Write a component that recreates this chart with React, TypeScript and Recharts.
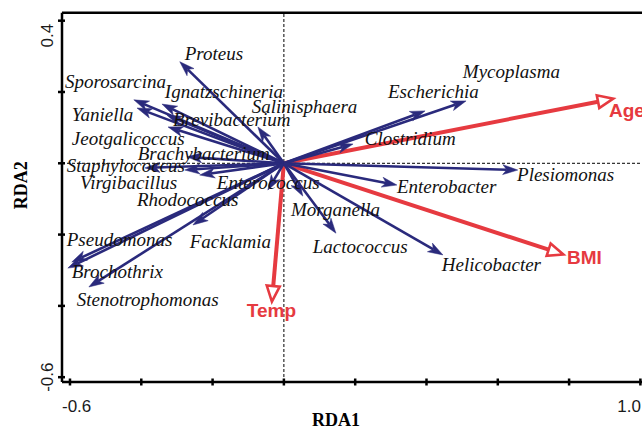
import React from 'react';
import { ScatterChart, Scatter, XAxis, YAxis, ReferenceLine } from 'recharts';

// ---------- data ----------
const species = [
  'Proteus', 'Sporosarcina', 'Ignatzschineria', 'Yaniella', 'Brevibacterium', 'Salinisphaera',
  'Jeotgalicoccus', 'Brachybacterium', 'Staphylococcus', 'Virgibacillus', 'Enterococcus', 'Rhodococcus',
  'Pseudomonas', 'Facklamia', 'Brochothrix', 'Stenotrophomonas', 'Morganella', 'Lactococcus',
  'Helicobacter', 'Mycoplasma', 'Escherichia', 'Clostridium', 'Plesiomonas', 'Enterobacter',
];
const speciesRDA1 = [
  -0.292, -0.421, -0.342, -0.412, -0.328, -0.073,
  -0.325, -0.272, -0.39, -0.278, -0.045, -0.236,
  -0.595, -0.255, -0.606, -0.547, 0.053, 0.146,
  0.446, 0.511, 0.396, 0.194, 0.656, 0.317,
];
const speciesRDA2 = [
  0.285, 0.178, 0.166, 0.155, 0.135, 0.102,
  0.102, 0.018, -0.013, -0.019, -0.075, -0.033,
  -0.277, -0.173, -0.294, -0.347, -0.092, -0.196,
  -0.257, 0.175, 0.147, 0.054, -0.019, -0.061,
];
// label anchors (data units)
const speciesLabelX = [
  -0.278, -0.614, -0.334, -0.595, -0.311, -0.09,
  -0.595, -0.41, -0.609, -0.572, -0.188, -0.412,
  -0.609, -0.264, -0.595, -0.581, 0.02, 0.081,
  0.443, 0.502, 0.292, 0.227, 0.654, 0.317,
];
const speciesLabelY = [
  0.29, 0.211, 0.183, 0.119, 0.105, 0.141,
  0.051, 0.009, -0.024, -0.072, -0.072, -0.12,
  -0.232, -0.238, -0.322, -0.4, -0.148, -0.252,
  -0.302, 0.239, 0.183, 0.051, -0.05, -0.083,
];

const envVars = ['Age', 'BMI', 'Temp'];
const envRDA1 = [0.928, 0.788, -0.034];
const envRDA2 = [0.182, -0.257, -0.392];
const envLabelX = [0.912, 0.794, -0.104];
const envLabelY = [0.13, -0.282, -0.431];

const xTicks = [-0.6, -0.4, -0.2, 0, 0.2, 0.4, 0.6, 0.8, 1.0];
const xTickText = ['-0.6', '', '', '', '', '', '', '', '1.0'];
const yTicks = [-0.6, -0.4, -0.2, 0, 0.2, 0.4];
const yTickText = ['-0.6', '', '', '', '', '0.4'];

const X_DOMAIN: [number, number] = [-0.6224, 1.17];
const Y_DOMAIN: [number, number] = [-0.6135, 0.4224];

// ---------- styles ----------
const BLUE = '#2a2a7c';
const RED = '#e63a40';
const SANS = '"Liberation Sans", Arial, sans-serif';
const SERIF = '"Liberation Serif", "Times New Roman", "DejaVu Serif", serif';

const speciesLabels = species.map((name, i) => ({ x: speciesLabelX[i], y: speciesLabelY[i], name }));
const envLabels = envVars.map((name, i) => ({ x: envLabelX[i], y: envLabelY[i], name }));

const blueArrow = (p: any) => {
  const { x1, y1, x2, y2 } = p;
  const dx = x2 - x1;
  const dy = y2 - y1;
  const len = Math.hypot(dx, dy) || 1;
  const ux = dx / len;
  const uy = dy / len;
  const nx = -uy;
  const ny = ux;
  const L = 15;
  const W = 5;
  const N = 11;
  const bx = x2 - ux * L;
  const by = y2 - uy * L;
  const kx = x2 - ux * N;
  const ky = y2 - uy * N;
  const pts = `${x2},${y2} ${bx + nx * W},${by + ny * W} ${kx},${ky} ${bx - nx * W},${by - ny * W}`;
  return (
    <g>
      <line x1={x1} y1={y1} x2={kx} y2={ky} stroke={BLUE} strokeWidth={2.6} />
      <polygon points={pts} fill={BLUE} stroke={BLUE} strokeWidth={0.5} />
    </g>
  );
};

const redArrow = (p: any) => {
  const { x1, y1, x2, y2 } = p;
  const dx = x2 - x1;
  const dy = y2 - y1;
  const len = Math.hypot(dx, dy) || 1;
  const ux = dx / len;
  const uy = dy / len;
  const nx = -uy;
  const ny = ux;
  const L = 17;
  const W = 6.5;
  const tx = x2 - ux * 1.5;
  const ty = y2 - uy * 1.5;
  const bx = x2 - ux * L;
  const by = y2 - uy * L;
  const pts = `${tx},${ty} ${bx + nx * W},${by + ny * W} ${bx - nx * W},${by - ny * W}`;
  return (
    <g>
      <line x1={x1} y1={y1} x2={bx} y2={by} stroke={RED} strokeWidth={4} />
      <polygon points={pts} fill="#fff" stroke={RED} strokeWidth={2.6} strokeLinejoin="miter" />
    </g>
  );
};

const XTick = (p: any) => {
  const { x, y, payload } = p;
  const idx = xTicks.findIndex((t) => Math.abs(t - payload.value) < 1e-9);
  const txt = idx >= 0 ? xTickText[idx] : '';
  const first = idx === 0;
  return (
    <g>
      <line x1={x} x2={x} y1={y - 3.5} y2={y + 3.5} stroke="#000" strokeWidth={2.5} />
      {txt ? (
        <text
          x={first ? x - 8 : x + 0.5}
          y={y + 29.5}
          textAnchor={first ? 'start' : 'end'}
          style={{ fontFamily: SANS, fontSize: 17 }}
          fill="#1a1a1a"
        >
          {txt}
        </text>
      ) : null}
    </g>
  );
};

const YTick = (p: any) => {
  const { x, y, payload } = p;
  const idx = yTicks.findIndex((t) => Math.abs(t - payload.value) < 1e-9);
  const txt = idx >= 0 ? yTickText[idx] : '';
  const cy = idx === yTicks.length - 1 ? y + 15 : y;
  const tx = x - 9;
  return (
    <g>
      <line x1={x - 4} x2={x + 3} y1={y} y2={y} stroke="#000" strokeWidth={2.5} />
      {txt ? (
        <text
          x={tx}
          y={cy}
          textAnchor="middle"
          transform={`rotate(-90, ${tx}, ${cy})`}
          style={{ fontFamily: SANS, fontSize: 17 }}
          fill="#1a1a1a"
        >
          {txt}
        </text>
      ) : null}
      {idx === 3 ? (
        <text
          x={x - 35}
          y={y + 22}
          textAnchor="middle"
          transform={`rotate(-90, ${x - 35}, ${y + 22})`}
          style={{ fontFamily: SERIF, fontWeight: 700, fontSize: 18 }}
          fill="#000"
        >
          RDA2
        </text>
      ) : null}
    </g>
  );
};

const xTitle = (lp: any) => {
  const vb = lp.viewBox || { x: 62, y: 382 };
  return (
    <text
      x={vb.x + 274}
      y={vb.y + 44}
      textAnchor="middle"
      style={{ fontFamily: SERIF, fontWeight: 700, fontSize: 18 }}
      fill="#000"
    >
      RDA1
    </text>
  );
};

const speciesText = (p: any) => (
  <text x={p.cx} y={p.cy} style={{ fontFamily: SERIF, fontStyle: 'italic', fontSize: 19 }} fill="#111">
    {p.payload.name}
  </text>
);

const envText = (p: any) => (
  <text x={p.cx} y={p.cy} style={{ fontFamily: SANS, fontWeight: 700, fontSize: 19 }} fill={RED}>
    {p.payload.name}
  </text>
);

export default function App() {
  return (
    <div style={{ position: 'absolute', left: 0, top: 0, width: 642, height: 427, overflow: 'hidden', background: '#fff' }}>
      <ScatterChart width={701} height={427} margin={{ top: 12.7, right: 0, bottom: 0, left: 0 }}>
        <XAxis
          type="number"
          dataKey="x"
          domain={X_DOMAIN}
          ticks={xTicks}
          interval={0}
          allowDataOverflow
          height={45}
          tickSize={0}
          tickMargin={0}
          tickLine={false}
          axisLine={{ stroke: '#000', strokeWidth: 2.5 }}
          tick={XTick}
          label={xTitle}
        />
        <YAxis
          type="number"
          dataKey="y"
          domain={Y_DOMAIN}
          ticks={yTicks}
          interval={0}
          allowDataOverflow
          width={62}
          tickSize={0}
          tickMargin={0}
          tickLine={false}
          axisLine={{ stroke: '#000', strokeWidth: 2.5 }}
          tick={YTick}
        />
        <ReferenceLine y={Y_DOMAIN[1]} stroke="#000" strokeWidth={2.5} ifOverflow="visible" />
        <ReferenceLine x={0} stroke="#000" strokeWidth={1} strokeDasharray="3 2" ifOverflow="visible" />
        <ReferenceLine y={0} stroke="#000" strokeWidth={1} strokeDasharray="3 2" ifOverflow="visible" />
        <Scatter data={speciesLabels} shape={speciesText} isAnimationActive={false} />
        <Scatter data={envLabels} shape={envText} isAnimationActive={false} />
        {envVars.map((v, i) => (
          <ReferenceLine
            key={v}
            segment={[{ x: 0, y: 0 }, { x: envRDA1[i], y: envRDA2[i] }]}
            shape={redArrow}
            ifOverflow="visible"
          />
        ))}
        {species.map((s, i) => (
          <ReferenceLine
            key={s}
            segment={[{ x: 0, y: 0 }, { x: speciesRDA1[i], y: speciesRDA2[i] }]}
            shape={blueArrow}
            ifOverflow="visible"
          />
        ))}
      </ScatterChart>
    </div>
  );
}
